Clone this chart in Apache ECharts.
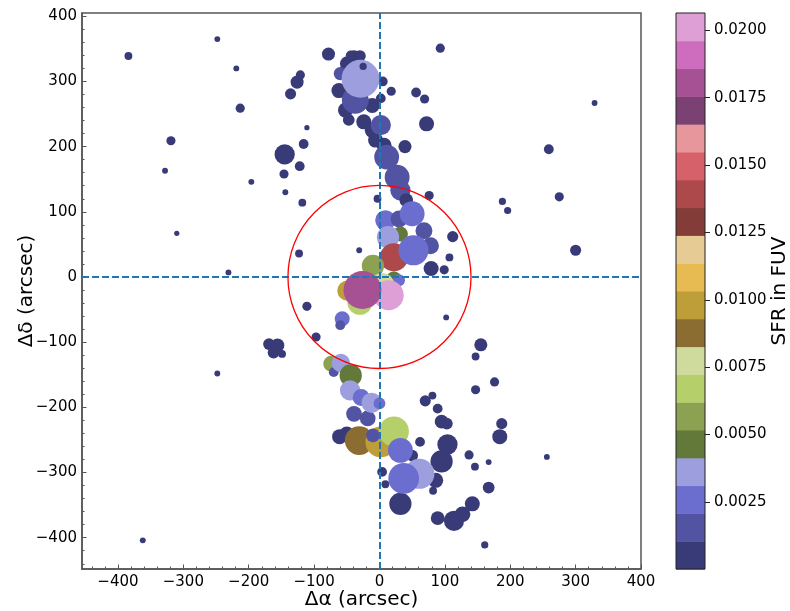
<!DOCTYPE html>
<html>
<head>
<meta charset="utf-8">
<script src="https://cdn.jsdelivr.net/npm/echarts@6/dist/echarts.min.js"></script>
<style>
  html, body { margin: 0; padding: 0; background: #fff; }
  #chart { width: 790px; height: 611px; }
</style>
</head>
<body>
<div id="chart"></div>
<script>
// offsets from centre (arcsec)
const ra = [
  -384, -248, -219, -213, -319, -328, -196, -310, -231, -123,
  -31, -78, -145, -116, -111, -122, -146, -144, -118, -136,
  -121, -126, 93, 18, 56, 69, 72, 39, 329, 259,
  188, 196, 275, 300, -3, 76, 112, 107, 79, 99,
  -111, -97, 102, -169, -156, -162, -149, -248, -362, 147,
  176, 155, 147, 70, 81, 89, 95, 103, 187, 184,
  62, 104, 95, 137, 146, 167, 256, 86, 82, 167,
  142, 89, 114, 127, 161, 50, 4, 9, 32, -61,
  -50, -49, -39, -30, -44, -62, -52, -47, -11, 5,
  2, -24, -11, -6, 7, -60, -37, -29, -25, 2,
  11, 27, 32, 41, 9, 30, 68, 78, 32, 50,
  13, 22, 52, 22, 30, -10, 4, -49, -30, 14,
  -26, -57, -60, -74, -70, -59, -44, -45, -28, -39,
  -18, -12, 0, -31, 2, -10, 22, 32, 61, 37
]
const dec = [
  339, 365, 320, 259, 209, 163, 146, 67, 7, 36,
  41, 342, 188, 204, 229, 170, 158, 130, 114, 281,
  310, 299, 351, 285, 283, 273, 235, 200, 267, 196,
  116, 102, 123, 41, 120, 125, 62, 30, 13, 11,
  -45, -92, -62, -103, -105, -116, -118, -148, -404, -173,
  -161, -104, -122, -190, -182, -202, -222, -225, -225, -245,
  -253, -257, -283, -273, -291, -284, -276, -312, -328, -323,
  -348, -370, -374, -364, -411, -274, -299, -318, -348, -245,
  -241, 327, 338, 339, 340, 286, 256, 241, 263, 300,
  274, 238, 225, 210, 202, 312, 271, 304, 323, 233,
  184, 153, 133, 118, 87, 89, 71, 48, 66, 97,
  61, 30, 41, -3, -5, 17, -13, -21, -39, -28,
  -20, -64, -74, -133, -146, -132, -151, -174, -185, -210,
  -217, -193, -194, -251, -253, -243, -237, -266, -302, -309
]
// region diameter (arcsec)
const size = [
  12, 9, 9, 14, 14, 9, 9, 8, 9, 12,
  9, 20, 31, 15, 8, 15, 14, 9, 12, 17,
  14, 20, 14, 14, 15, 14, 23, 20, 9, 15,
  11, 11, 14, 17, 12, 14, 17, 12, 23, 14,
  14, 14, 9, 18, 21, 18, 12, 9, 9, 14,
  14, 20, 12, 17, 12, 15, 21, 18, 17, 23,
  15, 31, 34, 14, 12, 9, 9, 23, 12, 18,
  23, 21, 31, 24, 11, 18, 15, 12, 34, 23,
  23, 23, 20, 18, 15, 23, 23, 18, 23, 15,
  15, 23, 23, 23, 23, 20, 41, 58, 11, 31,
  38, 38, 31, 21, 31, 26, 26, 26, 23, 38,
  34, 43, 46, 23, 18, 34, 38, 31, 38, 46,
  58, 23, 15, 24, 15, 28, 34, 31, 26, 24,
  24, 31, 18, 44, 47, 21, 46, 38, 46, 47
]
const sfr = [
  0.0004, 0.0003, 0.0003, 0.0005, 0.0005, 0.0003, 0.0003, 0.0002, 0.0003, 0.0004,
  0.0003, 0.0006, 0.0009, 0.0005, 0.0002, 0.0005, 0.0005, 0.0003, 0.0004, 0.0005,
  0.0005, 0.0006, 0.0005, 0.0005, 0.0005, 0.0005, 0.0007, 0.0006, 0.0003, 0.0005,
  0.0003, 0.0003, 0.0005, 0.0005, 0.0004, 0.0005, 0.0005, 0.0004, 0.0007, 0.0005,
  0.0005, 0.0005, 0.0003, 0.0006, 0.0007, 0.0006, 0.0004, 0.0003, 0.0003, 0.0005,
  0.0005, 0.0006, 0.0004, 0.0005, 0.0004, 0.0005, 0.0007, 0.0006, 0.0005, 0.0007,
  0.0005, 0.0009, 0.0010, 0.0005, 0.0004, 0.0003, 0.0003, 0.0007, 0.0004, 0.0006,
  0.0007, 0.0007, 0.0009, 0.0008, 0.0003, 0.0006, 0.0005, 0.0004, 0.0010, 0.0007,
  0.0007, 0.0007, 0.0006, 0.0006, 0.0005, 0.0007, 0.0007, 0.0006, 0.0007, 0.0005,
  0.0005, 0.0007, 0.0007, 0.0007, 0.0007, 0.0015, 0.0016, 0.0036, 0.0003, 0.0014,
  0.0016, 0.0017, 0.0014, 0.0006, 0.0026, 0.0015, 0.0016, 0.0015, 0.0047, 0.0027,
  0.0035, 0.0141, 0.0026, 0.0046, 0.0025, 0.0057, 0.0077, 0.0098, 0.0068, 0.0203,
  0.0181, 0.0026, 0.0015, 0.0056, 0.0015, 0.0036, 0.0047, 0.0035, 0.0026, 0.0016,
  0.0015, 0.0036, 0.0027, 0.0087, 0.0097, 0.0016, 0.0068, 0.0026, 0.0035, 0.0027
]

const xTicks = [-400, -300, -200, -100, 0, 100, 200, 300, 400]
const yTicks = [-400, -300, -200, -100, 0, 100, 200, 300, 400]
const cbTicks = [0.0025, 0.005, 0.0075, 0.01, 0.0125, 0.015, 0.0175, 0.02]
const sfrMin = 0.00001
const sfrMax = 0.02064
const circleR = 140

const tab20b = [
  '#393b79', '#5254a3', '#6b6ecf', '#9c9ede', '#637939', '#8ca252', '#b5cf6b', '#cedb9c',
  '#8c6d31', '#bd9e39', '#e7ba52', '#e7cb94', '#843c39', '#ad494a', '#d6616b', '#e7969c',
  '#7b4173', '#a55194', '#ce6dbd', '#de9ed6'
]

// layout
const xMin = -455, xMax = 400, yMin = -448, yMax = 405
const plot = { left: 82, top: 13, width: 559, height: 556 }
const pxPerArc = plot.width / (xMax - xMin)
const binW = (sfrMax - sfrMin) / tab20b.length
const font = 'DejaVu Sans'
const frame = '#555'

let minor = []
for (let v = -440; v <= 400; v += 20) minor.push(v)

const fmt = (v) => (v < 0 ? '\u2212' + Math.abs(v) : String(v))

const pts = ra.map((x, i) => [x, dec[i], size[i], sfr[i]])

// colour bar pieces
let pieces = tab20b.map((c, i) => ({ gte: sfrMin + i * binW, lt: sfrMin + (i + 1) * binW, color: c }))
pieces[pieces.length - 1].lte = sfrMax
delete pieces[pieces.length - 1].lt
let cbData = tab20b.map((c, i) => [0, sfrMin + i * binW, i])
cbData.push([0, sfrMin, -1]) // outline

const chart = echarts.init(document.getElementById('chart'))
chart.setOption({
  animation: false,
  textStyle: { fontFamily: font },
  grid: [
    { left: plot.left, top: plot.top, width: plot.width, height: plot.height, show: true, borderColor: frame, borderWidth: 1.5, outerBoundsMode: 'none', containLabel: false },
    { left: 676, top: 13, width: 29, height: 556, outerBoundsMode: 'none', containLabel: false },
  ],
  visualMap: {
    type: 'piecewise',
    show: false,
    seriesIndex: 0,
    dimension: 3,
    pieces: pieces,
  },
  xAxis: [
    {
      gridIndex: 0, type: 'value', min: xMin, max: xMax,
      axisLine: { show: true, onZero: false, lineStyle: { color: frame, width: 1.5 } },
      axisTick: { customValues: xTicks, inside: true, length: 4.5, lineStyle: { color: frame } },
      axisLabel: { customValues: xTicks, formatter: fmt, fontSize: 15, color: '#000', margin: 6 },
      splitLine: { show: false },
      name: 'Δα (arcsec)', nameLocation: 'middle', nameGap: 21, nameMoveOverlap: false,
      nameTextStyle: { fontSize: 20, color: '#000' },
    },
    {
      gridIndex: 0, type: 'value', min: xMin, max: xMax, position: 'bottom',
      axisLine: { show: false, onZero: false },
      axisTick: { customValues: minor, inside: true, length: 2.5, lineStyle: { color: frame } },
      axisLabel: { show: false },
      splitLine: { show: false },
    },
    { gridIndex: 1, type: 'value', min: 0, max: 1, show: false, axisLine: { onZero: false } },
  ],
  yAxis: [
    {
      gridIndex: 0, type: 'value', min: yMin, max: yMax,
      axisLine: { show: true, onZero: false, lineStyle: { color: frame, width: 1.5 } },
      axisTick: { customValues: yTicks, inside: true, length: 4.5, lineStyle: { color: frame } },
      axisLabel: { customValues: yTicks, formatter: fmt, fontSize: 15, color: '#000', margin: 5 },
      splitLine: { show: false },
      name: 'Δδ (arcsec)', nameLocation: 'middle', nameGap: 45, nameMoveOverlap: false,
      nameTextStyle: { fontSize: 20, color: '#000' },
    },
    {
      gridIndex: 0, type: 'value', min: yMin, max: yMax, position: 'left',
      axisLine: { show: false, onZero: false },
      axisTick: { customValues: minor, inside: true, length: 2.5, lineStyle: { color: frame } },
      axisLabel: { show: false },
      splitLine: { show: false },
    },
    {
      gridIndex: 1, type: 'value', min: sfrMin, max: sfrMax, position: 'right',
      axisLine: { show: false, onZero: false },
      axisTick: { customValues: cbTicks, length: 5, lineStyle: { color: '#222' } },
      axisLabel: { customValues: cbTicks, formatter: (v) => v.toFixed(4), fontSize: 15, color: '#000', margin: 9 },
      splitLine: { show: false },
      name: 'SFR in FUV', nameLocation: 'middle', nameGap: 65, nameMoveOverlap: false,
      nameTextStyle: { fontSize: 20, color: '#000' },
    },
  ],
  series: [
    {
      type: 'scatter',
      xAxisIndex: 0,
      yAxisIndex: 0,
      data: pts,
      symbolSize: (v) => v[2] * pxPerArc,
      itemStyle: { opacity: 1 },
      emphasis: { disabled: true },
      z: 2,
    },
    {
      // red circle + zero lines
      type: 'custom',
      xAxisIndex: 0,
      yAxisIndex: 0,
      silent: true,
      z: 5,
      data: [[0, 0]],
      renderItem: (params, api) => {
        const c = api.coord([api.value(0), api.value(1)])
        const r = api.size([circleR, 0])[0]
        return {
          type: 'circle',
          shape: { cx: c[0], cy: c[1], r: r },
          style: { fill: 'none', stroke: '#ff0000', lineWidth: 1.3 },
        }
      },
      markLine: {
        silent: true,
        symbol: 'none',
        label: { show: false },
        lineStyle: { color: '#1f77b4', width: 2, type: [7, 3] },
        data: [{ xAxis: 0 }, { yAxis: 0 }],
      },
    },
    {
      // colour bar
      type: 'custom',
      xAxisIndex: 2,
      yAxisIndex: 2,
      silent: true,
      data: cbData,
      renderItem: (params, api) => {
        const idx = api.value(2)
        if (idx < 0) {
          const a = api.coord([0, sfrMax])
          const b = api.coord([1, sfrMin])
          return {
            type: 'rect',
            shape: { x: a[0], y: a[1], width: b[0] - a[0], height: b[1] - a[1] },
            style: { fill: 'none', stroke: '#222', lineWidth: 1 },
          }
        }
        const lo = api.value(1)
        const a = api.coord([0, lo + binW])
        const b = api.coord([1, lo])
        return {
          type: 'rect',
          shape: { x: a[0], y: a[1], width: b[0] - a[0], height: b[1] - a[1] + 0.5 },
          style: { fill: tab20b[idx] },
        }
      },
    },
  ],
})
</script>
</body>
</html>
